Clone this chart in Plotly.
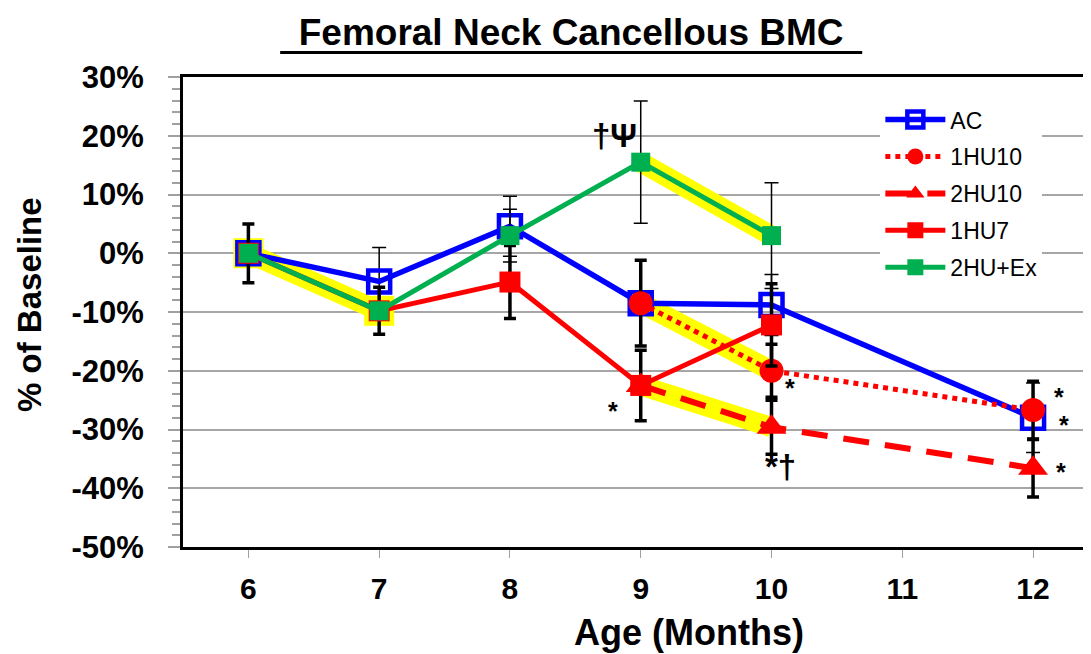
import plotly.graph_objects as go

# ---------------- data ----------------
months_all = [6, 7, 8, 9, 10, 11, 12]
tick_labels = ["6", "7", "8", "9", "10", "11", "12"]

ac_x = [6, 7, 8, 9, 10, 12]
ac_y = [0.0, -4.8, 4.6, -8.5, -8.8, -28.0]
ac_err = [0.0, 5.8, 5.1, 0.0, 5.2, 5.9]

hu10_1_x = [9, 10, 12]
hu10_1_y = [-8.5, -20.0, -26.7]
hu10_1_err = [7.3, 4.5, 4.9]

hu10_2_x = [9, 10, 12]
hu10_2_y = [-22.5, -29.6, -36.6]
hu10_2_err = [6.0, 4.6, 4.9]

hu7_x = [6, 7, 8, 9, 10]
hu7_y = [0.0, -9.8, -4.9, -22.5, -12.2]
hu7_err = [5.0, 4.0, 6.2, 0.0, 7.0]

ex_x = [6, 7, 8, 9, 10]
ex_y = [0.0, -9.8, 3.0, 15.5, 3.0]
ex_err = [0.0, 0.0, 4.5, 10.4, 9.0]

# highlighted (yellow) segments: (series, start index, end index)
highlights = [("ex", 0, 1), ("ex", 3, 4), ("hu10_1", 0, 1), ("hu10_2", 0, 1)]
highlight_markers = [("ex", 0), ("ex", 1)]

ann_text = ["\u2020\u03a8", "*", "*", "*\u2020", "*", "*", "*"]
ann_x = [8.8, 8.79, 10.14, 10.07, 12.2, 12.24, 12.21]
ann_y = [20.0, -26.8, -23.0, -36.3, -24.4, -29.2, -37.2]

series = {
    "ac": (ac_x, ac_y), "hu10_1": (hu10_1_x, hu10_1_y),
    "hu10_2": (hu10_2_x, hu10_2_y), "hu7": (hu7_x, hu7_y), "ex": (ex_x, ex_y),
}

BLUE = "#0000ff"
RED = "#ff0000"
GREEN = "#00b050"
YELLOW = "#ffff00"
FONT = "Liberation Sans, Arial"

fig = go.Figure()

# yellow highlight bands
for name, i0, i1 in highlights:
    xs, ys = series[name]
    fig.add_trace(go.Scatter(x=xs[i0:i1 + 1], y=ys[i0:i1 + 1], mode="lines",
                             line=dict(color=YELLOW, width=20), showlegend=False,
                             hoverinfo="skip"))
for name, i in highlight_markers:
    xs, ys = series[name]
    fig.add_trace(go.Scatter(x=[xs[i]], y=[ys[i]], mode="markers",
                             marker=dict(symbol="square", size=30, color=YELLOW),
                             showlegend=False, hoverinfo="skip"))


def err(arr, thin):
    return dict(type="data", array=arr, visible=True, color="black",
                thickness=1.5 if thin else 3.5, width=7 if thin else 6)


fig.add_trace(go.Scatter(
    x=ac_x, y=ac_y, name="AC", mode="lines+markers", legendgroup="a",
    line=dict(color=BLUE, width=5.5),
    marker=dict(symbol="square-open", size=22, color=BLUE, line=dict(width=4.5, color=BLUE)),
    error_y=err(ac_err, True)))

fig.add_trace(go.Scatter(
    x=hu10_1_x, y=hu10_1_y, name="1HU10", mode="lines+markers", legendgroup="b",
    line=dict(color=RED, width=5, dash="dot"),
    marker=dict(symbol="circle", size=24, color=RED),
    error_y=err(hu10_1_err, False)))

fig.add_trace(go.Scatter(
    x=hu10_2_x, y=hu10_2_y, name="2HU10", mode="lines+markers", legendgroup="c",
    line=dict(color=RED, width=6, dash="26px,16px"),
    marker=dict(symbol="triangle-up", size=26, color=RED),
    error_y=err(hu10_2_err, False)))

fig.add_trace(go.Scatter(
    x=hu7_x, y=hu7_y, name="1HU7", mode="lines+markers", legendgroup="d",
    line=dict(color=RED, width=5),
    marker=dict(symbol="square", size=21, color=RED),
    error_y=err(hu7_err, False)))

fig.add_trace(go.Scatter(
    x=ex_x, y=ex_y, name="2HU+Ex", mode="lines+markers", legendgroup="e",
    line=dict(color=GREEN, width=5),
    marker=dict(symbol="square", size=19, color=GREEN),
    error_y=err(ex_err, True)))

for t, x, y in zip(ann_text, ann_x, ann_y):
    fig.add_annotation(x=x, y=y, text=f"<b>{t}</b>", showarrow=False,
                       font=dict(size=33 if len(t) > 1 else 25, color="black", family=FONT))

# axis titles
fig.add_annotation(xref="paper", yref="paper", x=0.557, y=-0.181, text="<b>Age (Months)</b>",
                   xanchor="center", yanchor="middle",
                   showarrow=False, font=dict(size=36, color="black", family=FONT))
fig.add_annotation(xref="paper", yref="paper", x=-0.1685, y=0.515, text="<b>% of Baseline</b>",
                   xanchor="center", yanchor="middle",
                   textangle=-90, showarrow=False, font=dict(size=33, color="black", family=FONT))

# title underline
fig.add_shape(type="line", xref="paper", yref="paper", x0=0.107, x1=0.748, y0=1.052, y1=1.052,
              line=dict(color="black", width=3))

fig.update_layout(
    width=1083, height=646,
    margin=dict(l=175, r=0, t=69, b=107),
    paper_bgcolor="white", plot_bgcolor="white",
    font=dict(family=FONT, color="black"),
    title=dict(text="<b>Femoral Neck Cancellous BMC</b>", x=0.52, xref="container",
               y=0.962, yref="container", xanchor="center", yanchor="middle",
               font=dict(size=37, color="black", family=FONT)),
    showlegend=True,
    legend=dict(x=0.768, y=0.955, xanchor="left", yanchor="top", bgcolor="white",
                font=dict(size=23, color="black"), tracegroupgap=4, itemwidth=60,
                traceorder="grouped"),
    xaxis=dict(range=[5.5, 12.443], tickvals=months_all,
               ticktext=[f"<b>{t}</b>" for t in tick_labels],
               showgrid=False, zeroline=False, showline=True, linecolor="black", linewidth=3,
               mirror=True, ticks="outside", ticklen=8, tickcolor="#a0a0a0", tickwidth=1,
               ticklabelstandoff=5, tickfont=dict(size=30, color="black", family=FONT)),
    yaxis=dict(range=[-50, 30], tickvals=list(range(-50, 31, 10)),
               ticktext=[f"<b>{v}%</b>" for v in range(-50, 31, 10)],
               showgrid=True, gridcolor="#a6a6a6", gridwidth=1.5, zeroline=False,
               showline=True, linecolor="black", linewidth=3, mirror=False,
               ticks="outside", ticklen=12, tickcolor="#a0a0a0", tickwidth=1.5,
               ticklabelstandoff=18, tickfont=dict(size=31, color="black", family=FONT),
               minor=dict(dtick=2, ticks="outside", ticklen=8, tickcolor="#a0a0a0",
                          tickwidth=1.5, showgrid=False)),
)

fig.write_html("out.html")
